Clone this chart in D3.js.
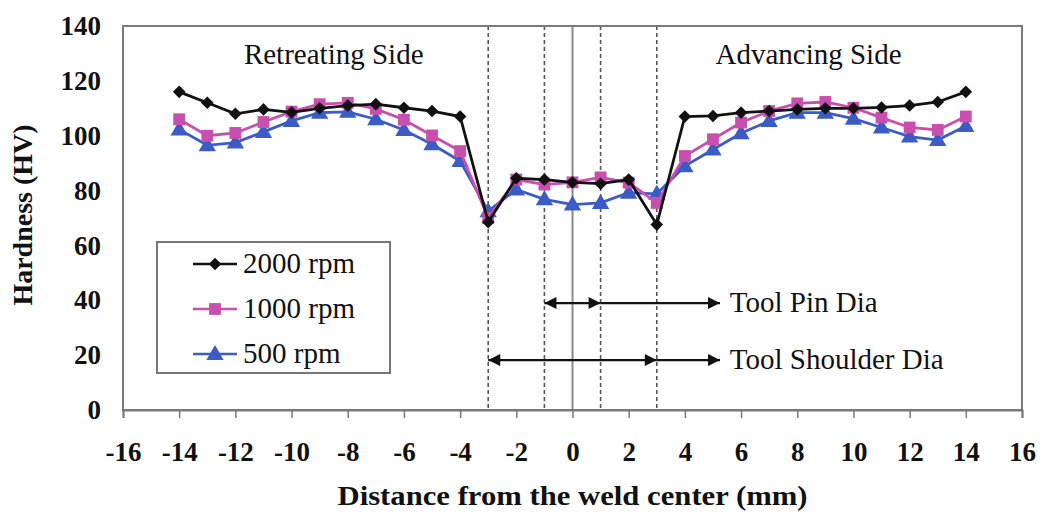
<!DOCTYPE html>
<html><head><meta charset="utf-8">
<script src="https://cdn.jsdelivr.net/npm/d3@7"></script>
<style>body{margin:0;background:#fff}svg{display:block}</style>
</head><body><svg id="c" width="1045" height="515"></svg>
<script>
const distances = [-14,-13,-12,-11,-10,-9,-8,-7,-6,-5,-4,-3,-2,-1,0,1,2,3,4,5,6,7,8,9,10,11,12,13,14];
const rpm2000 = [116,112,108,109.6,108.5,110,111,111.5,110.2,109,107,68.5,84.5,84,83,82.5,84,67.6,107,107.2,108.4,109,109.6,110,110,110.3,111,112.3,116];
const rpm1000 = [106,100,101,105,108.8,111.5,112,109.8,105.8,100.1,94.4,70,84,82.2,83,84.8,82.9,75.5,92.6,98.7,104.8,109,111.8,112.3,110.2,106.6,103,102.1,107];
const rpm500  = [102.3,96.5,97.5,101.4,105.4,108.4,108.7,106,102.1,96.9,90.8,72.5,80.4,76.8,74.9,75.5,79.2,78.8,88.9,95,100.9,105.4,108.4,108.4,106.2,103,99.7,98.4,103.5];
const seriesNames = ["2000 rpm","1000 rpm","500 rpm"];
const xTicks = [-16,-14,-12,-10,-8,-6,-4,-2,0,2,4,6,8,10,12,14,16];
const yTicks = [0,20,40,60,80,100,120,140];
const dashedAt = [-3,-1,1,3];
const pinDia = [-1,1];
const shoulderDia = [-3,3];

const svg = d3.select("#c");
const L=123, R=1022, T=26, B=410;
const x = d3.scaleLinear().domain([-16,16]).range([L,R]);
const y = d3.scaleLinear().domain([0,140]).range([B,T]);
const serif = "'Liberation Serif','Times New Roman',serif";
const colors = ["#111111","#c94fae","#3b5cc4"];
const data = [rpm2000,rpm1000,rpm500];

const defs = svg.append("defs");
defs.append("marker").attr("id","ah").attr("viewBox","0 0 10 10").attr("refX",10).attr("refY",5)
  .attr("markerWidth",15).attr("markerHeight",12).attr("markerUnits","userSpaceOnUse").attr("orient","auto-start-reverse")
  .append("path").attr("d","M0,0 L10,5 L0,10 z").attr("fill","#111");

// vertical reference lines
svg.selectAll(".dl").data(dashedAt).enter().append("line")
  .attr("x1",d=>x(d)).attr("x2",d=>x(d)).attr("y1",T).attr("y2",B)
  .attr("stroke","#555").attr("stroke-width",1.6).attr("stroke-dasharray","4,3");
svg.append("line").attr("x1",x(0)).attr("x2",x(0)).attr("y1",T).attr("y2",B)
  .attr("stroke","#8a8a8a").attr("stroke-width",2);

// frame
svg.append("rect").attr("x",L).attr("y",T).attr("width",R-L).attr("height",B-T)
  .attr("fill","none").attr("stroke","#7a7a7a").attr("stroke-width",2);

// x axis
const xa = svg.append("g").attr("transform",`translate(0,${B})`)
  .call(d3.axisBottom(x).tickValues(xTicks).tickSize(8).tickPadding(24).tickFormat(d3.format("d")));
xa.select(".domain").attr("stroke","#7a7a7a").attr("stroke-width",2);
xa.selectAll(".tick line").attr("stroke","#7a7a7a").attr("stroke-width",1.5);
xa.selectAll("text").attr("font-family",serif).attr("font-weight","bold").attr("font-size",27).attr("fill","#111")
  .text(d=>d<0?"-"+Math.abs(d):d);

// y axis
const ya = svg.append("g").attr("transform",`translate(${L},0)`)
  .call(d3.axisLeft(y).tickValues(yTicks).tickSize(0).tickPadding(22));
ya.select(".domain").remove();
ya.selectAll("text").attr("font-family",serif).attr("font-weight","bold").attr("font-size",27).attr("fill","#111");

// axis titles
svg.append("text").attr("x",x(0)).attr("y",505).attr("text-anchor","middle")
  .attr("font-family",serif).attr("font-weight","bold").attr("font-size",28).attr("fill","#111")
  .attr("textLength",470).attr("lengthAdjust","spacingAndGlyphs")
  .text("Distance from the weld center (mm)");
svg.append("text").attr("transform","translate(32,215) rotate(-90)").attr("text-anchor","middle")
  .attr("font-family",serif).attr("font-weight","bold").attr("font-size",28).attr("fill","#111")
  .text("Hardness (HV)");

// side labels
svg.append("text").attr("x",x(-8.5)).attr("y",64).attr("text-anchor","middle")
  .attr("font-family",serif).attr("font-size",29).attr("fill","#111").text("Retreating Side");
svg.append("text").attr("x",x(8.4)).attr("y",64).attr("text-anchor","middle")
  .attr("font-family",serif).attr("font-size",29).attr("fill","#111").text("Advancing Side");

// arrows
function arrowRow(range, yv, label){
  svg.append("line").attr("x1",x(range[0])).attr("x2",x(range[1])).attr("y1",y(yv)).attr("y2",y(yv))
    .attr("stroke","#111").attr("stroke-width",2.2).attr("marker-start","url(#ah)").attr("marker-end","url(#ah)");
  svg.append("line").attr("x1",x(range[1])).attr("x2",x(5.25)).attr("y1",y(yv)).attr("y2",y(yv))
    .attr("stroke","#111").attr("stroke-width",2.2).attr("marker-end","url(#ah)");
  svg.append("text").attr("x",x(5.6)).attr("y",y(yv)+9).attr("font-family",serif).attr("font-size",29)
    .attr("fill","#111").text(label);
}
arrowRow(pinDia, 39, "Tool Pin Dia");
arrowRow(shoulderDia, 18.2, "Tool Shoulder Dia");

// series
const line = d3.line().x((d,i)=>x(distances[i])).y(d=>y(d));
const symTypes = [d3.symbolSquare, d3.symbolSquare, d3.symbolTriangle];
const symSizes = [80, 140, 130];
function drawSym(g, k, cx, cy){
  g.append("path").attr("d",d3.symbol().type(symTypes[k]).size(symSizes[k])())
    .attr("transform",`translate(${cx},${cy})`+(k===0?" rotate(45)":(k===2?" translate(0,1)":"")))
    .attr("fill",colors[k]);
}
[2,1,0].forEach(k=>{
  const g = svg.append("g");
  g.append("path").datum(data[k]).attr("d",line).attr("fill","none")
    .attr("stroke",colors[k]).attr("stroke-width",2.8);
  data[k].forEach((v,i)=>drawSym(g,k,x(distances[i]),y(v)));
});

// legend
const lg = svg.append("g");
lg.append("rect").attr("x",157).attr("y",242).attr("width",233).attr("height",131)
  .attr("fill","#fff").attr("stroke","#777").attr("stroke-width",2);
seriesNames.forEach((n,k)=>{
  const cy = 264 + k*45;
  lg.append("line").attr("x1",193).attr("x2",237).attr("y1",cy).attr("y2",cy)
    .attr("stroke",colors[k]).attr("stroke-width",2.6);
  drawSym(lg,k,215,cy);
  lg.append("text").attr("x",243).attr("y",cy+9).attr("font-family",serif).attr("font-size",29)
    .attr("fill","#111").text(n);
});
</script></body></html>
